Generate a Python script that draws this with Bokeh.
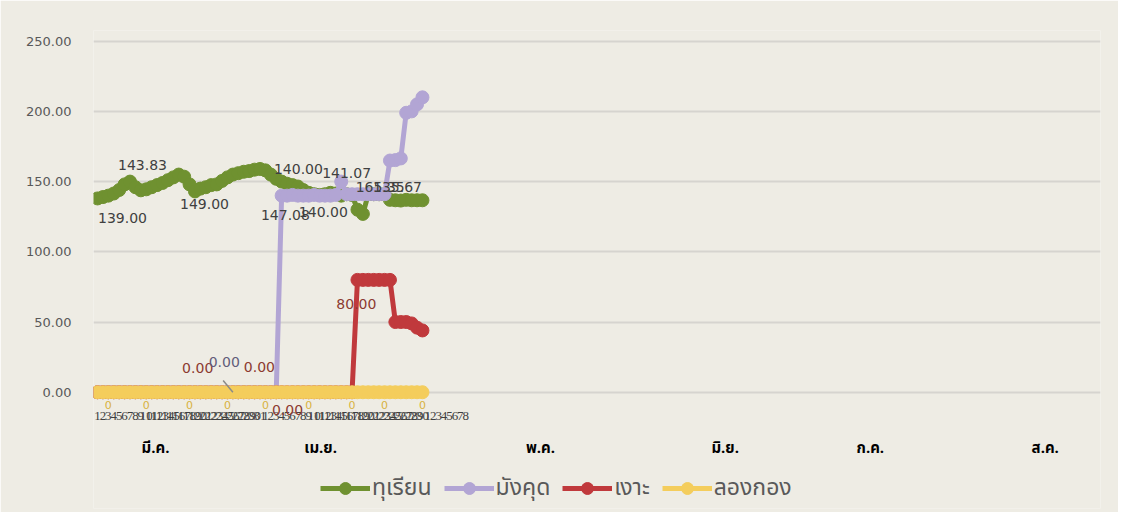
from bokeh.plotting import figure
from bokeh.models import (Range1d, FixedTicker, Legend, LegendItem, ColumnDataSource)
from bokeh.core.properties import value
from bokeh.embed import file_html
from bokeh.resources import INLINE

# ---------------- data ----------------
series_names = ["ทุเรียน", "มังคุด", "เงาะ", "ลองกอง"]

# one value per day, 1 Mar .. 30 Apr (61 days)
durian = [138.0, 139.0, 140.0, 141.5, 144.0, 148.0, 150.0, 146.0, 143.8, 144.5,
          146.0, 147.5, 149.0, 151.0, 153.0, 155.0, 153.5, 148.0, 143.0, 145.0,
          146.0, 147.5, 148.0, 150.5, 153.0, 155.0, 156.0, 157.0, 157.5, 158.5,
          159.0, 158.0, 155.0, 152.0, 150.0, 148.5, 147.5, 146.5, 144.0, 142.0,
          141.0, 140.5, 141.0, 142.0, 141.5, 140.0, 141.0, 140.5, 130.0, 127.0,
          141.0, 141.0, 141.0, 141.0, 137.0, 136.7, 136.5, 137.0, 136.7, 136.7,
          136.7]
mangosteen = [0.0] * 34 + [140.0, 140.0, 140.5, 140.0, 140.0, 140.0, 140.5, 140.0,
                           140.0, 140.0, 140.5, 150.0, 141.0, 141.0, 141.0, 141.0,
                           141.0, 141.0, 141.0, 141.0, 165.0, 165.3, 166.5, 199.0,
                           200.0, 205.0, 210.0]
rambutan = [0.0] * 48 + [80.0, 80.0, 80.0, 80.0, 80.0, 80.0, 80.0,
                         50.0, 50.0, 50.0, 49.0, 46.0, 44.0]
longkong = [0.0] * 61

# category tick labels (day of month) and month group labels
day_labels = ([str(d) for d in range(1, 32)] + [str(d) for d in range(1, 31)]
              + [str(d) for d in range(1, 9)])
month_labels = ["มี.ค.", "เม.ย.", "พ.ค.", "มิ.ย.", "ก.ค.", "ส.ค."]
y_tick_values = [0, 50, 100, 150, 200, 250]
y_tick_labels = ["0.00", "50.00", "100.00", "150.00", "200.00", "250.00"]

# data-label annotations (text, series index) as shown in the chart
label_texts = ["139.00", "143.83", "149.00", "140.00", "147.08", "140.00",
               "141.07", "165.35", "135.67", "80.00", "0.00", "0.00", "0.00", "0.00"]
label_series = [0, 0, 0, 0, 1, 1, 1, 1, 0, 2, 2, 1, 2, 2]

# ---------------- layout / style ----------------
month_pos = [10.7, 41.2, 81.8, 115.9, 142.7, 175.0]
label_pos_x = [4.62, 8.31, 19.75, 37.1, 34.7, 41.7, 46.0, 52.2, 55.4, 47.8,
               18.5, 23.4, 29.9, 35.1]
label_pos_y = [124.4, 161.5, 133.8, 159.3, 125.9, 128.7, 155.8, 146.5, 146.5,
               63.1, 16.9, 21.2, 18.3, -12.3]
yellow_label_idx = [2, 9, 17, 24, 31, 39, 47, 53, 60]

BG = "#eeece4"
COLORS = ["#6f9130", "#b2a5d4", "#c0393c", "#f4cd5c"]
LABEL_COLORS = ["#404040", "#404040", "#8c3a30", "#404040"]
THAI = "Tahoma, 'Noto Sans Thai', 'Noto Looped Thai', Loma, Garuda, Waree, 'Noto Sans', sans-serif"

p = figure(width=1118, height=512,
           x_range=Range1d(-0.74, 185.2), y_range=Range1d(-82.8, 257.6),
           output_backend="svg", toolbar_location=None,
           min_border_left=93, min_border_right=18, min_border_top=30,
           min_border_bottom=4,
           background_fill_color=BG, border_fill_color=BG,
           outline_line_color=None)

# y axis
p.yaxis.ticker = FixedTicker(ticks=y_tick_values)
p.yaxis.major_label_overrides = dict(zip(y_tick_values, y_tick_labels))
p.yaxis.axis_line_color = None
p.yaxis.major_tick_line_color = None
p.yaxis.minor_tick_line_color = None
p.yaxis.major_label_standoff = 16
p.yaxis.major_label_text_font = "DejaVu Sans"
p.yaxis.major_label_text_font_size = "13px"
p.yaxis.major_label_text_color = "#595959"
p.ygrid.grid_line_color = "#d6d4cf"
p.ygrid.grid_line_width = 2
p.xgrid.grid_line_color = None
p.xaxis.visible = False

# category labels (day numbers) under the zero line
dsrc = ColumnDataSource(dict(x=list(range(len(day_labels))),
                             y=[0] * len(day_labels), text=day_labels))
p.text("x", "y", text="text", source=dsrc, text_color="#404040",
       text_font=value("Liberation Sans Narrow"), text_font_size="13px",
       text_align="center", text_baseline="middle", y_offset=24)

# month group labels
msrc = ColumnDataSource(dict(x=month_pos, y=[0] * len(month_pos), text=month_labels))
p.text("x", "y", text="text", source=msrc, text_color="#000000",
       text_font=value(THAI), text_font_size="15px", text_font_style="bold",
       text_align="center", text_baseline="middle", y_offset=56)

# series
all_series = [durian, mangosteen, rambutan, longkong]
items = []
for name, vals, col in zip(series_names, all_series, COLORS):
    src = ColumnDataSource(dict(x=list(range(len(vals))), y=vals))
    lr = p.line("x", "y", source=src, line_color=col, line_width=5)
    sr = p.scatter("x", "y", source=src, size=13, fill_color=col, line_color=col)
    items.append(LegendItem(label=name, renderers=[lr, sr]))

# leader line for moved label
li = label_series.index(1, 10)
p.segment(x0=[label_pos_x[li] - 0.2], y0=[label_pos_y[li] - 12.9],
          x1=[25.0], y1=[mangosteen[25]], line_color="#8a8a8a", line_width=1.5)

# data labels
lcolors = [LABEL_COLORS[s] if not (s == 1 and t == "0.00") else "#625c7a"
           for s, t in zip(label_series, label_texts)]
lsrc = ColumnDataSource(dict(x=label_pos_x, y=label_pos_y, text=label_texts,
                             color=lcolors))
p.text("x", "y", text="text", source=lsrc, text_color="color",
       text_font=value("DejaVu Sans"), text_font_size="14px",
       text_align="center", text_baseline="middle")

ysrc = ColumnDataSource(dict(x=yellow_label_idx,
                             y=[longkong[i] for i in yellow_label_idx],
                             text=["%g" % longkong[i] for i in yellow_label_idx]))
p.text("x", "y", text="text", source=ysrc, text_color="#d8b23e",
       text_font=value("DejaVu Sans"), text_font_size="11px",
       text_align="center", text_baseline="middle", y_offset=13)

legend = Legend(items=items, orientation="horizontal", location=(227, 3),
                glyph_width=50, glyph_height=30, label_standoff=2, spacing=12,
                padding=0, margin=0,
                background_fill_alpha=0, border_line_color=None,
                label_text_font=THAI, label_text_font_size="23px",
                label_text_color="#595959")
p.add_layout(legend)

open("out.html", "w").write(file_html(p, INLINE))
